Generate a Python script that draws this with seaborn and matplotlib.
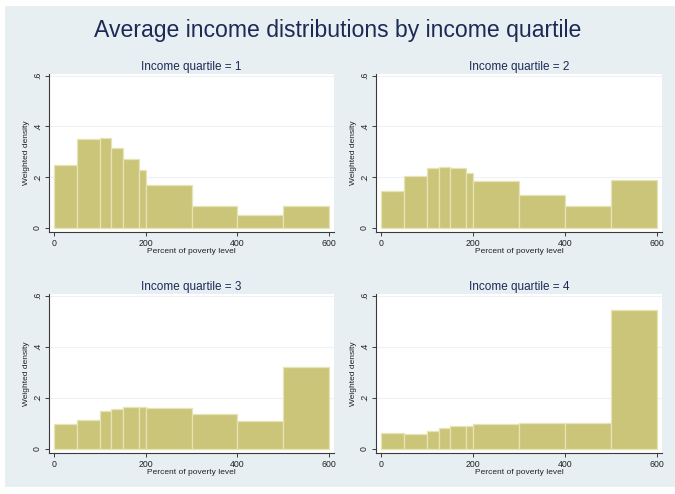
import numpy as np
import pandas as pd
import matplotlib
matplotlib.use("Agg")
import matplotlib.pyplot as plt
import seaborn as sns

# Bin edges (percent of poverty level) shared by every panel
bin_edges = [0, 50, 100, 125, 150, 185, 200, 300, 400, 500, 600]

# Weighted density per bin, one list per income quartile
quartile_1 = [0.250, 0.349, 0.353, 0.314, 0.270, 0.229, 0.170, 0.088, 0.050, 0.088]
quartile_2 = [0.146, 0.203, 0.238, 0.242, 0.236, 0.217, 0.187, 0.128, 0.087, 0.189]
quartile_3 = [0.098, 0.114, 0.147, 0.156, 0.163, 0.165, 0.159, 0.136, 0.110, 0.321]
quartile_4 = [0.062, 0.058, 0.069, 0.081, 0.089, 0.089, 0.098, 0.102, 0.102, 0.545]

quartiles = [1, 2, 3, 4]
x_ticks = [0, 200, 400, 600]
y_ticks = [0, 0.2, 0.4, 0.6]
y_ticklabels = ["0", ".2", ".4", ".6"]

sns.set_theme(style="white")
plt.rcParams["font.family"] = ["Liberation Sans", "DejaVu Sans"]

BG = "#e7eff2"
BAR = "#cbc57a"
BAR_EDGE = "#e6e3b4"
NAVY = "#1c2a56"
AXIS = "#3a3a3a"

W, H = 675, 494
fig = plt.figure(figsize=(W / 100, H / 100), dpi=100)
fig.patch.set_facecolor("white")
# tinted graph region with a thin white margin, kept behind the panels
bg_ax = fig.add_axes([5 / W, 7 / H, 1 - 5 / W, 1 - 13 / H], zorder=-10)
bg_ax.set_facecolor(BG)
bg_ax.set_xticks([])
bg_ax.set_yticks([])
for s in bg_ax.spines.values():
    s.set_visible(False)

fig.text(0.5, 1 - 31 / H, "Average income distributions by income quartile",
         ha="center", va="center", fontsize=16.6, color=NAVY)

# axes boxes in pixels: left, top, right, bottom
boxes = [(49, 74, 334, 232), (376, 74, 662, 232),
         (49, 294, 334, 453), (376, 294, 662, 453)]
heights_all = [quartile_1, quartile_2, quartile_3, quartile_4]

edges = np.array(bin_edges, dtype=float)
centers = (edges[:-1] + edges[1:]) / 2

for q, vals, (l, t, r, b) in zip(quartiles, heights_all, boxes):
    ax = fig.add_axes([l / W, 1 - b / H, (r - l) / W, (b - t) / H])
    ax.set_facecolor("white")
    df = pd.DataFrame({"poverty": centers, "density": vals})
    sns.histplot(data=df, x="poverty", weights="density", bins=bin_edges,
                 stat="count", color=BAR, alpha=1.0, edgecolor=BAR_EDGE,
                 linewidth=0.9, ax=ax, zorder=2)
    ax.set_xlim(-11.5, 611)
    ax.set_ylim(-0.016, 0.607)
    ax.set_xticks(x_ticks)
    ax.set_xticklabels([str(v) for v in x_ticks])
    ax.set_yticks(y_ticks)
    ax.set_yticklabels(y_ticklabels, rotation=90, va="center")
    for y in y_ticks[1:]:
        ax.axhline(y, color="#edf2f4", lw=0.8, zorder=1)
    for side in ("top", "right"):
        ax.spines[side].set_visible(False)
    for side in ("left", "bottom"):
        ax.spines[side].set_color(AXIS)
        ax.spines[side].set_linewidth(0.8)
    ax.tick_params(axis="both", which="major", direction="out", length=3,
                   width=0.7, color=AXIS, labelsize=6.3, labelcolor="#222222",
                   pad=2, bottom=True, left=True)
    ax.set_xlabel("Percent of poverty level", fontsize=6, color="#222222",
                  labelpad=0)
    ax.set_ylabel("Weighted density", fontsize=6, color="#222222", labelpad=2)
    ax.set_title(f"Income quartile = {q}", fontsize=8.5, color=NAVY, pad=3)

fig.savefig("out.png", dpi=100, facecolor=fig.get_facecolor())
